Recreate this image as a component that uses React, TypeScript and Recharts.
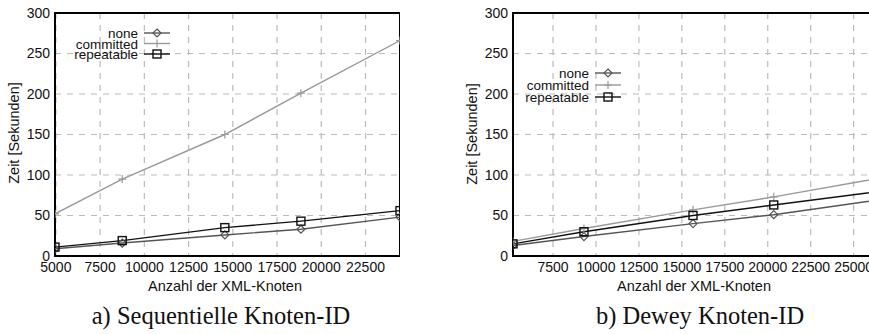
import { CartesianGrid, Line, LineChart, ReferenceArea, XAxis, YAxis } from "recharts";

// left chart: sequential node ids
const nodesA = [4950, 8750, 14550, 18850, 24450];
const noneA = [9, 16, 26, 33, 48];
const committedA = [52, 95, 150, 201, 266];
const repeatableA = [11, 19, 35, 43, 56];
const ticksA = [5000, 7500, 10000, 12500, 15000, 17500, 20000, 22500];

// right chart: dewey node ids
const nodesB = [5170, 9300, 15650, 20350, 27000];
const noneB = [13, 24, 40, 51, 71];
const committedB = [18, 34, 57, 73, 98];
const repeatableB = [15, 30, 50, 63, 81];
const ticksB = [7500, 10000, 12500, 15000, 17500, 20000, 22500, 25000];

const yTicks = [0, 50, 100, 150, 200, 250, 300];
const SERIES = ["none", "committed", "repeatable"];
const COLORS: Record<string, string> = { none: "#555", committed: "#999", repeatable: "#111" };
const FONT = "'Liberation Sans', Arial, sans-serif";
const SERIF = "'Liberation Serif', 'Times New Roman', serif";

function Marker({ kind, cx, cy, color }: { kind: string; cx: number; cy: number; color: string }) {
  if (kind == "none") {
    return <path d={`M${cx} ${cy - 4}L${cx + 4} ${cy}L${cx} ${cy + 4}L${cx - 4} ${cy}Z`} fill="none" stroke={color} strokeWidth={1.2} />;
  }
  if (kind == "committed") {
    return <path d={`M${cx - 4} ${cy}H${cx + 4}M${cx} ${cy - 4}V${cy + 4}`} stroke={color} strokeWidth={1.2} />;
  }
  return <rect x={cx - 4} y={cy - 4} width={8} height={8} fill="none" stroke={color} strokeWidth={1.4} />;
}

function build(nodes: number[], none: number[], committed: number[], repeatable: number[]) {
  return nodes.map((n, i) => ({ n, none: none[i], committed: committed[i], repeatable: repeatable[i] }));
}

function Chart(props: { data: any[]; domain: [number, number]; ticks: number[]; width: number; yWidth: number }) {
  const { data, domain, ticks, width, yWidth } = props;
  return (
    <LineChart width={width} height={290} data={data} margin={{ top: 13, right: 0, left: 0, bottom: 0 }}>
      <CartesianGrid stroke="#bbb" strokeDasharray="6 6" strokeWidth={1.2} />
      <XAxis dataKey="n" type="number" domain={domain} ticks={ticks} allowDataOverflow height={34}
             tickSize={0} tickMargin={6} axisLine={false} interval={0}
             tick={{ fill: "#111", fontSize: 14, fontFamily: FONT }} />
      <YAxis type="number" domain={[0, 300]} ticks={yTicks} width={yWidth} tickSize={0} tickMargin={5}
             axisLine={false} interval={0} tick={{ fill: "#111", fontSize: 14, fontFamily: FONT }} />
      <ReferenceArea x1={domain[0]} x2={domain[1]} y1={0} y2={300} fill="none" stroke="#000" strokeWidth={2} ifOverflow="visible" />
      {SERIES.map(s => (
        <Line key={s} dataKey={s} type="linear" stroke={COLORS[s]} strokeWidth={1.4} isAnimationActive={false}
              dot={(p: any) => <Marker key={p.index} kind={s} cx={p.cx} cy={p.cy} color={COLORS[s]} />} />
      ))}
    </LineChart>
  );
}

function LegendBox({ left, top, gap }: { left: number; top: number; gap: number }) {
  return (
    <svg style={{ position: "absolute", left, top }} width={140} height={gap * 3 + 6}>
      {SERIES.map((s, i) => (
        <g key={s}>
          <text x={94} y={i * gap + 12} textAnchor="end" fontSize={13.5} fontFamily={FONT} fill="#111">{s}</text>
          <line x1={100} x2={126} y1={i * gap + 7} y2={i * gap + 7} stroke={COLORS[s]} strokeWidth={1.4} />
          <Marker kind={s} cx={113} cy={i * gap + 7} color={COLORS[s]} />
        </g>
      ))}
    </svg>
  );
}

// text centred on (x, y)
const label = (text: string, x: number, y: number, rotate = 0, size = 14.5, family = FONT) => (
  <div style={{
    position: "absolute", left: x, top: y, transform: `translate(-50%, -50%) rotate(${rotate}deg)`,
    fontFamily: family, fontSize: size, color: "#111", whiteSpace: "nowrap", lineHeight: 1,
  }}>{text}</div>
);

export default function App() {
  return (
    <div style={{ position: "fixed", left: 0, top: 0, width: 869, height: 334, overflow: "hidden", background: "#fff" }}>
      <div style={{ position: "absolute", left: 0, top: 0 }}>
        <Chart data={build(nodesA, noneA, committedA, repeatableA)} domain={[4950, 24450]} ticks={ticksA} width={400} yWidth={55} />
      </div>
      <div style={{ position: "absolute", left: 440, top: 0 }}>
        <Chart data={build(nodesB, noneB, committedB, repeatableB)} domain={[5170, 27000]} ticks={ticksB} width={448} yWidth={73} />
      </div>
      <LegendBox left={44} top={26} gap={10.5} />
      <LegendBox left={495} top={66} gap={12} />
      {label("Zeit [Sekunden]", 14, 133, -90)}
      {label("Zeit [Sekunden]", 472, 134, -90)}
      {label("Anzahl der XML-Knoten", 225, 286)}
      {label("Anzahl der XML-Knoten", 694, 286)}
      {label("a) Sequentielle Knoten-ID", 221, 316, 0, 24.5, SERIF)}
      {label("b) Dewey Knoten-ID", 700, 316, 0, 24.5, SERIF)}
    </div>
  );
}
